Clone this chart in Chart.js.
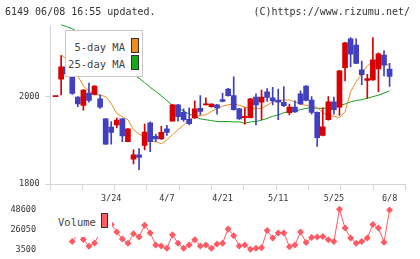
<!DOCTYPE html>
<html><head><meta charset="utf-8">
<script src="https://cdn.jsdelivr.net/npm/chart.js@4.4.0/dist/chart.umd.min.js"></script>
<style>
html,body{margin:0;padding:0;background:#fff;width:420px;height:259px;overflow:hidden;}
#wrap{position:relative;width:420px;height:259px;font-family:"DejaVu Sans Mono",monospace;}
#c1{position:absolute;left:0;top:0;}
#c2{position:absolute;left:0;top:203px;}
.t{position:absolute;white-space:pre;color:#333;font-size:10px;line-height:12px;}
#leg1{position:absolute;left:65px;top:30px;width:78px;height:47px;box-sizing:border-box;background:#fff;border:1px solid #c8c8c8;}
#leg2{position:absolute;left:55px;top:205px;width:57px;height:32px;background:#fff;}
.lt{position:absolute;white-space:pre;color:#444;font-size:10.5px;line-height:12px;text-align:right;}
.sw{position:absolute;box-sizing:border-box;border:1px solid #333;}
</style></head>
<body><div id="wrap">
<canvas id="c1" width="420" height="203"></canvas>
<canvas id="c2" width="420" height="56"></canvas>
<div class="t" style="left:5px;top:6px;">6149 06/08 16:55 updated.</div>
<div class="t" style="right:10px;top:6px;">(C)https://www.rizumu.net/</div>
<div id="leg1">
  <div class="lt" style="right:17px;top:10px;">5-day MA</div>
  <div class="lt" style="right:17px;top:27px;">25-day MA</div>
  <div class="sw" style="left:65px;top:7px;width:8px;height:15px;background:#f08c1e;"></div>
  <div class="sw" style="left:65px;top:24px;width:8px;height:15px;background:#18a818;"></div>
</div>
<div id="leg2">
  <div class="lt" style="left:3px;top:11px;text-align:left;">Volume</div>
  <div class="sw" style="left:46px;top:8px;width:7px;height:15px;background:#ff5a64;"></div>
</div>
</div>
<script>
const dates = ["3/9","3/10","3/11","3/12","3/13","3/16","3/17","3/18","3/19","3/23","3/24",
"3/25","3/26","3/27","3/30","3/31","4/1","4/2","4/3","4/6","4/7",
"4/8","4/9","4/10","4/13","4/14","4/15","4/16","4/17","4/20","4/21",
"4/22","4/23","4/24","4/27","4/28","4/30","5/1","5/7","5/8","5/11",
"5/12","5/13","5/14","5/15","5/18","5/19","5/20","5/21","5/22","5/25",
"5/26","5/27","5/28","5/29","6/1","6/2","6/3","6/4","6/5","6/8"];
const openP  = [2000,2040,2068,2051,1999,1980,2008,2005,1995,1949,1930,1935,1949,1897,1857,1867,1888,1940,1909,1903,1926,1944,1981,1964,1948,1951,1973,1981,1977,1981,1993,2017,2002,1972,1952,1952,1999,1987,2011,1997,1992,1987,1963,1976,2006,2024,1992,1964,1911,1947,1988,1976,2066,2132,2118,2061,2037,2038,2063,2095,2063];
const highP  = [2000,2094,2097,2052,2000,2016,2031,2025,2004,1950,1943,1951,1950,1927,1878,1881,1937,1942,1914,1932,1934,1982,1982,1972,1974,1990,2002,1997,1984,1982,2008,2019,2045,1973,1974,1996,2006,2015,2018,2021,2017,2023,1983,1990,2013,2025,2000,1965,1974,2000,1999,2060,2124,2135,2132,2081,2051,2135,2100,2105,2076];
const lowP   = [2000,2004,2051,2005,1977,1969,1987,2004,1973,1890,1891,1928,1897,1897,1846,1833,1878,1874,1897,1902,1911,1944,1944,1943,1935,1950,1958,1981,1976,1960,1988,2001,1969,1948,1937,1951,1935,1947,1989,1981,1947,1977,1958,1964,1982,1990,1960,1886,1910,1946,1960,1957,2036,2068,2075,2027,1996,2037,2011,2047,2023];
const closeP = [2000,2068,2051,2007,1983,2015,1991,2024,1976,1891,1918,1946,1910,1926,1867,1861,1919,1897,1903,1918,1918,1981,1954,1947,1938,1972,1966,1983,1983,1974,1989,2002,1970,1949,1955,1995,1981,1999,1998,1990,1987,1979,1976,1965,1983,1991,1964,1906,1931,1988,1970,2059,2123,2097,2076,2050,2041,2084,2098,2072,2046];
const ma5  = [null,2095,2086,2066,2047,2024,2013,2006,2003,2000,1984,1961,1954,1947,1924,1914,1908,1899,1897,1892,1901,1913,1924,1935,1947,1954,1957,1958,1966,1972,1978,1981,1983,1980,1976,1973,1972,1973,1980,1988,1991,1992,1992,1988,1982,1980,1978,1975,1963,1957,1955,1952,1965,2011,2034,2052,2070,2081,2080,2077,2071];
const ma25 = [null,2164,2160,2155,2148,2139,2128,2118,2109,2100,2089,2079,2069,2059,2050,2042,2032,2021,2012,2002,1991,1980,1974,1967,1960,1955,1949,1947,1945,1943,1943,1943,1942,1942,1939,1942,1943,1946,1950,1955,1958,1963,1966,1967,1970,1973,1975,1973,1973,1974,1977,1979,1983,1988,1991,1993,1996,2000,2003,2008,2013];
const volume = [null,null,null,12200,21000,14500,6900,10700,22000,38000,31600,23000,15000,10400,21100,17300,30600,21900,8400,7300,4600,19900,10400,4600,8400,14200,7300,8400,4600,9600,10400,26500,18800,7300,8400,3500,4600,5300,24800,16100,21900,21900,6500,8400,23000,11100,16800,17300,18000,14200,12200,48600,27600,16100,10400,12200,16100,31400,27600,11500,47800];
const priceTicks = [1800, 2000];
const volumeTicks = [3500, 26050, 48600];
const dateTickIdx = [10, 20, 30, 40, 50, 60];

const UP = '#d80000', DOWN = '#4040c0';
const X_MIN = -1, X_MAX = 62.86;
const gridDiv = 11;
const axisGray = '#d4d4d4';
const tickFont = {family: "'DejaVu Sans Mono', monospace", size: 8.5};
Chart.defaults.font.family = "'DejaVu Sans Mono', monospace";

const ids = dates.map((d, i) => i);
const candleColors = ids.map(i => closeP[i] >= openP[i] ? UP : DOWN);

new Chart(document.getElementById('c1'), {
  type: 'line',
  data: {
    datasets: [
      {type: 'bar', label: 'body', data: ids.map(i => ({x: i, y: [openP[i], closeP[i]]})),
       backgroundColor: candleColors, borderWidth: 0, barThickness: 5, minBarLength: 1,
       stack: 'c', order: 0},
      {type: 'bar', label: 'wick', data: ids.map(i => ({x: i, y: [lowP[i], highP[i]]})),
       backgroundColor: candleColors, borderWidth: 0, barThickness: 1, stack: 'c', order: 1},
      {type: 'line', label: '5-day MA', data: ids.map(i => ({x: i, y: ma5[i]})),
       borderColor: '#f08c1e', borderWidth: 1, pointRadius: 0, clip: false, order: 2},
      {type: 'line', label: '25-day MA', data: ids.map(i => ({x: i, y: ma25[i]})),
       borderColor: '#18a018', borderWidth: 1, pointRadius: 0, clip: false, order: 3}
    ]
  },
  options: {
    responsive: false, animation: false, devicePixelRatio: 1,
    layout: {padding: {top: 25, right: 14.5, left: 0, bottom: 0}},
    plugins: {legend: {display: false}, tooltip: {enabled: false}},
    scales: {
      x: {
        type: 'linear', min: X_MIN, max: X_MAX, offset: false,
        afterBuildTicks: s => { s.ticks = Array.from({length: gridDiv + 1}, (_, k) => ({value: X_MIN + k * (X_MAX - X_MIN) / gridDiv})); },
        afterFit: s => { s.height = 6; },
        grid: {drawOnChartArea: false, drawTicks: true, tickLength: 6, color: axisGray, offset: false},
        border: {color: axisGray},
        ticks: {display: false}
      },
      x2: {
        type: 'linear', position: 'bottom', min: X_MIN, max: X_MAX, offset: false,
        afterBuildTicks: s => { s.ticks = dateTickIdx.map(v => ({value: v})); },
        afterFit: s => { s.height = 13; },
        grid: {display: false, drawTicks: false}, border: {display: false},
        ticks: {padding: 3.5, autoSkip: false, maxRotation: 0, color: '#333', font: tickFont,
                callback: v => dates[v]}
      },
      y: {
        min: 1800, max: 2163.7, stacked: false,
        afterBuildTicks: s => { s.ticks = priceTicks.map(v => ({value: v})); },
        afterFit: s => { s.width = 50; },
        grid: {drawOnChartArea: false, drawTicks: true, tickLength: 5, color: axisGray},
        border: {color: axisGray},
        ticks: {padding: 5.5, color: '#333', font: tickFont, callback: v => String(v)}
      }
    }
  }
});

new Chart(document.getElementById('c2'), {
  type: 'line',
  data: {
    datasets: [{
      label: 'Volume', data: ids.map(i => ({x: i, y: volume[i]})),
      borderColor: '#ff5a64', backgroundColor: '#ff5a64', borderWidth: 1,
      pointStyle: 'rectRot', pointRadius: 3.5, pointBorderWidth: 0, clip: false
    }]
  },
  options: {
    responsive: false, animation: false, devicePixelRatio: 1,
    layout: {padding: {top: 6.3, right: 14.5, left: 0, bottom: 9.7}},
    plugins: {legend: {display: false}, tooltip: {enabled: false}},
    scales: {
      x: {type: 'linear', min: X_MIN, max: X_MAX, display: false},
      y: {
        min: 3500, max: 48600,
        afterBuildTicks: s => { s.ticks = volumeTicks.map(v => ({value: v})); },
        afterFit: s => { s.width = 50; s.paddingTop = 0; s.paddingBottom = 0; },
        grid: {display: false}, border: {display: false},
        ticks: {padding: 6, color: '#333', font: tickFont, callback: v => String(v)}
      }
    }
  }
});
</script>
</body></html>
